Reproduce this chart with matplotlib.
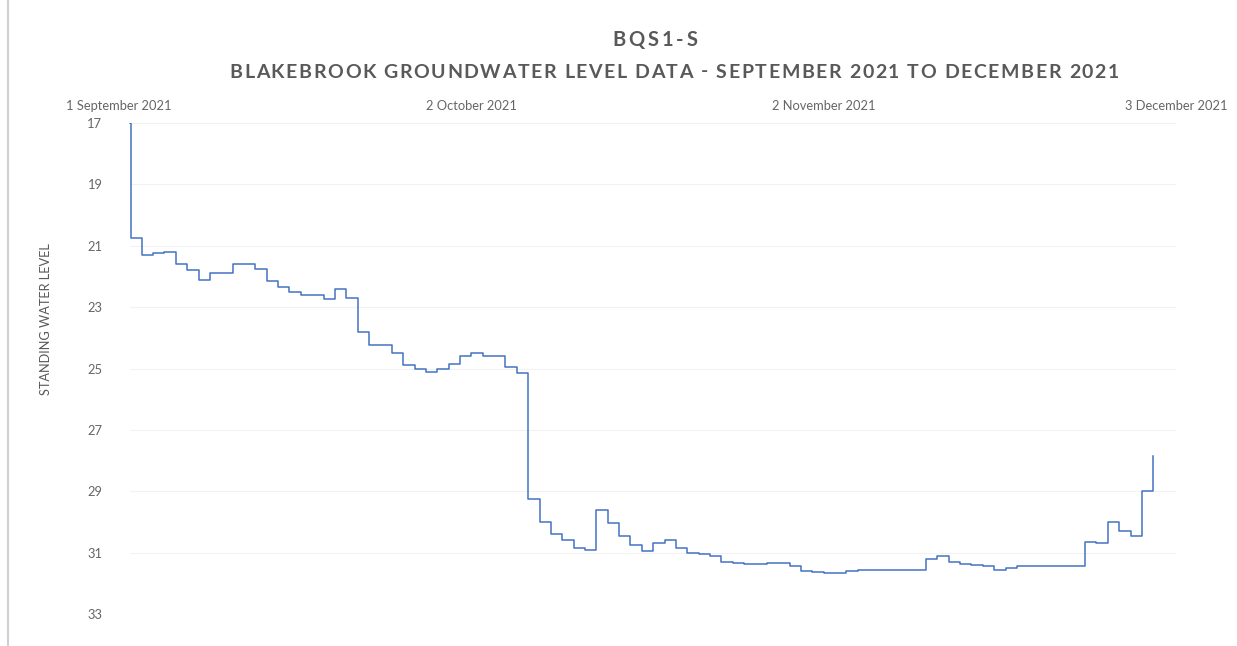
import matplotlib
matplotlib.use("Agg")
import matplotlib.pyplot as plt
import pandas as pd

# logger readings: first value at start of record, then one value per day
start_time = "2021-09-02 00:00"
start_level = 17.0
first_reading = "2021-09-02 01:00"
daily_start = "2021-09-03"
daily_levels = [
    20.75, 21.3, 21.25, 21.2, 21.6, 21.8, 22.1, 21.9, 21.9, 21.6,
    21.6, 21.75, 22.15, 22.35, 22.5, 22.6, 22.6, 22.75, 22.4, 22.7,
    23.8, 24.25, 24.25, 24.5, 24.9, 25.0, 25.1, 25.0, 24.85, 24.6,
    24.5, 24.6, 24.6, 24.95, 25.15, 29.25, 30.0, 30.4, 30.6, 30.85,
    30.9, 29.6, 30.05, 30.45, 30.75, 30.95, 30.7, 30.6, 30.85, 31.0,
    31.05, 31.1, 31.3, 31.35, 31.37, 31.38, 31.35, 31.35, 31.45, 31.6,
    31.62, 31.65, 31.65, 31.6, 31.58, 31.57, 31.57, 31.56, 31.56, 31.57,
    31.2, 31.1, 31.3, 31.37, 31.4, 31.45, 31.55, 31.5, 31.45, 31.43,
    31.43, 31.43, 31.45, 31.45, 30.65, 30.7, 30.0, 30.3, 30.45, 29.0,
    27.85,
]

tick_dates = ["2021-09-01", "2021-10-02", "2021-11-02", "2021-12-03"]
tick_labels = ["1 September 2021", "2 October 2021", "2 November 2021", "3 December 2021"]
y_ticks = [17, 19, 21, 23, 25, 27, 29, 31, 33]

title = "BQS1-S"
subtitle = "BLAKEBROOK GROUNDWATER LEVEL DATA - SEPTEMBER 2021 TO DECEMBER 2021"
y_label = "STANDING WATER LEVEL"

times = [pd.Timestamp(start_time), pd.Timestamp(first_reading)]
times += list(pd.date_range(daily_start, periods=len(daily_levels) - 1, freq="D"))
levels = [start_level] + daily_levels

plt.rcParams["font.family"] = ["Lato", "DejaVu Sans"]
grey = "#595959"
W, H = 1237, 646


def spaced_text(fig, s, xc, y, gap, **kw):
    """Letter-spaced text centred on pixel xc (Excel-style title)."""
    r = fig.canvas.get_renderer()

    def width(txt):
        t = fig.text(0, 0, txt + "x", **kw)
        w = t.get_window_extent(r).width
        t.remove()
        return w

    wx = width("")
    starts = [width(s[:i]) - wx for i in range(len(s) + 1)]
    total = starts[-1] + gap * (len(s) - 1)
    x0 = xc - total / 2
    for i, ch in enumerate(s):
        fig.text((x0 + starts[i] + gap * i) / W, 1 - y / H, ch,
                 ha="left", va="center", **kw)


fig = plt.figure(figsize=(12.37, 6.46), dpi=100)
ax = fig.add_axes([119 / W, 1 - 614 / H, (1176 - 119) / W, (614 - 123) / H])

x_end = pd.Timestamp(tick_dates[-1])
# faint horizontal gridlines, only across the plotted record
ax.hlines(y_ticks, times[0], x_end, color="#f2f2f2", lw=0.8, zorder=0)
ax.plot(times, levels, drawstyle="steps-post", color="#4472C4", lw=1.1)

ax.set_xlim(pd.Timestamp(tick_dates[0]), x_end)
ax.set_ylim(33, 17)
ax.set_yticks(y_ticks)
ax.set_xticks([pd.Timestamp(d) for d in tick_dates])
ax.set_xticklabels(tick_labels)
ax.xaxis.tick_top()
ax.tick_params(axis="both", length=0, colors="#666666", labelsize=9.3)
ax.tick_params(axis="x", pad=8)
ax.tick_params(axis="y", pad=12)
for s in ax.spines.values():
    s.set_visible(False)

ax.set_ylabel(y_label, color=grey, fontsize=9.2)
ax.yaxis.set_label_coords(-0.0635, 0.6)

spaced_text(fig, title, 655, 40, 3.0, fontsize=14.5, color=grey, fontweight="bold")
spaced_text(fig, subtitle, 674, 72, 1.6, fontsize=14, color=grey, fontweight="bold")

# outer chart frame line on the left
fig.add_artist(plt.Line2D([8 / W, 8 / W], [0, 1], color="#d0d0d0", lw=1.5))

fig.savefig("out.png", dpi=100)
